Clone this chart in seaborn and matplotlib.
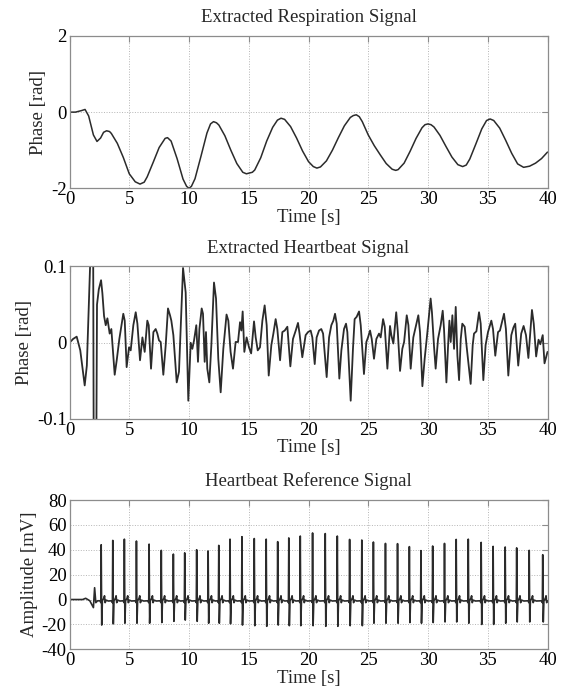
import numpy as np
import pandas as pd
import matplotlib
matplotlib.use("Agg")
import matplotlib.pyplot as plt
import seaborn as sns

# ---------------- data ----------------
resp_time = [0.0, 0.5, 1.0, 1.3, 1.6, 2.0, 2.3, 2.6, 2.85, 3.1, 3.35, 3.5, 4.0, 4.5, 5.0,
             5.5, 5.9, 6.25, 6.5, 7.0, 7.5, 8.0, 8.2, 8.5, 9.0, 9.5, 9.8, 10.0, 10.2,
             10.5, 11.0, 11.5, 11.8, 12.05, 12.3, 12.5, 13.0, 13.5, 14.0, 14.5, 14.8,
             15.3, 15.5, 16.0, 16.5, 17.0, 17.4, 17.7, 18.0, 18.5, 19.0, 19.5, 20.0,
             20.4, 20.7, 21.0, 21.5, 22.0, 22.5, 23.0, 23.5, 23.75, 24.0, 24.25, 24.5,
             25.0, 25.5, 26.0, 26.5, 27.0, 27.3, 27.5, 28.0, 28.5, 29.0, 29.5, 29.75,
             30.0, 30.25, 30.5, 31.0, 31.5, 32.0, 32.5, 32.9, 33.2, 33.5, 34.0, 34.5,
             34.9, 35.2, 35.5, 36.0, 36.5, 37.0, 37.5, 38.0, 38.5, 39.0, 39.5, 40.0]
resp_phase = [0.0, 0.0, 0.04, 0.07, -0.10, -0.60, -0.77, -0.68, -0.53, -0.49, -0.51, -0.56,
              -0.82, -1.19, -1.62, -1.83, -1.89, -1.84, -1.70, -1.32, -0.93, -0.69, -0.67,
              -0.76, -1.22, -1.76, -1.95, -2.0, -1.95, -1.75, -1.16, -0.55, -0.31, -0.25,
              -0.28, -0.34, -0.62, -1.00, -1.35, -1.58, -1.62, -1.58, -1.52, -1.20, -0.76,
              -0.40, -0.21, -0.16, -0.19, -0.38, -0.68, -1.02, -1.30, -1.43, -1.47, -1.44,
              -1.28, -1.00, -0.67, -0.36, -0.14, -0.09, -0.07, -0.12, -0.25, -0.60, -0.88,
              -1.12, -1.35, -1.50, -1.53, -1.51, -1.34, -1.03, -0.69, -0.41, -0.33, -0.31,
              -0.33, -0.39, -0.61, -0.90, -1.18, -1.38, -1.43, -1.39, -1.23, -0.84, -0.44,
              -0.22, -0.18, -0.22, -0.42, -0.74, -1.08, -1.36, -1.45, -1.42, -1.34, -1.22,
              -1.05]

hb_time = [0.0, 0.3, 0.6, 0.9, 1.27, 1.45, 1.72, 1.9, 2.1, 2.3, 2.45, 2.64, 2.75, 2.89,
           3.03, 3.17, 3.36, 3.5, 3.78, 3.95, 4.17, 4.5, 4.62, 4.78, 4.98, 5.12, 5.34,
           5.54, 5.68, 5.9, 6.1, 6.29, 6.51, 6.63, 6.82, 7.02, 7.21, 7.35, 7.49, 7.63,
           7.85, 8.05, 8.24, 8.41, 8.52, 8.69, 8.97, 9.16, 9.5, 9.72, 9.94, 10.14, 10.28,
           10.42, 10.61, 10.75, 10.87, 11.06, 11.17, 11.31, 11.42, 11.53, 11.7, 11.87,
           12.09, 12.26, 12.45, 12.65, 12.87, 13.14, 13.29, 13.48, 13.68, 13.9, 14.1,
           14.27, 14.38, 14.49, 14.63, 14.82, 15.02, 15.2, 15.44, 15.58, 15.75, 15.94,
           16.14, 16.33, 16.5, 16.67, 16.89, 17.06, 17.25, 17.39, 17.62, 17.81, 18.01,
           18.23, 18.48, 18.7, 18.93, 19.12, 19.25, 19.48, 19.76, 19.96, 20.18, 20.32,
           20.52, 20.68, 20.88, 21.07, 21.22, 21.52, 21.72, 21.91, 22.08, 22.22, 22.36,
           22.58, 22.75, 22.97, 23.14, 23.25, 23.53, 23.72, 23.86, 24.03, 24.23, 24.37,
           24.64, 24.84, 24.98, 25.15, 25.29, 25.48, 25.68, 25.9, 26.04, 26.24, 26.38,
           26.6, 26.82, 26.93, 27.1, 27.34, 27.47, 27.66, 27.85, 28.0, 28.22, 28.36,
           28.55, 28.77, 28.97, 29.19, 29.33, 29.53, 29.72, 29.95, 30.22, 30.33, 30.5,
           30.64, 30.84, 31.06, 31.23, 31.34, 31.54, 31.68, 31.79, 31.9, 32.04, 32.18,
           32.32, 32.46, 32.6, 32.74, 32.87, 33.07, 33.24, 33.57, 33.74, 33.85, 34.05,
           34.27, 34.41, 34.63, 34.82, 35.02, 35.3, 35.44, 35.63, 35.86, 36.02, 36.36,
           36.52, 36.72, 36.97, 37.15, 37.3, 37.55, 37.8, 38.0, 38.2, 38.4, 38.7, 38.85,
           39.05, 39.25, 39.4, 39.6, 39.75, 40.0]
hb_phase = [0.0, 0.005, 0.008, -0.01, -0.056, -0.03, 0.1, 0.6, -0.6, 0.05, 0.07, 0.082,
            0.065, 0.035, 0.023, 0.032, 0.012, 0.018, -0.042, -0.023, 0.005, 0.038, 0.029,
            -0.032, -0.006, -0.01, 0.023, 0.04, 0.025, -0.023, 0.007, -0.012, 0.029, 0.023,
            -0.034, 0.014, 0.018, 0.012, 0.003, 0.001, -0.042, -0.003, 0.045, 0.036, 0.029,
            0.01, -0.052, -0.038, 0.098, 0.066, -0.076, 0.0, -0.008, 0.003, 0.023, -0.025,
            0.018, 0.045, 0.038, -0.025, 0.014, -0.034, -0.052, -0.003, 0.079, 0.058,
            -0.021, -0.065, -0.008, 0.037, 0.029, -0.012, -0.034, 0.001, 0.001, 0.027,
            0.016, 0.041, -0.012, 0.007, -0.006, -0.014, 0.028, 0.007, -0.01, -0.006,
            0.029, 0.049, 0.023, -0.043, -0.003, 0.012, 0.031, 0.018, -0.023, 0.014, 0.016,
            0.021, -0.031, 0.005, 0.016, 0.026, 0.012, -0.019, 0.01, 0.014, 0.016, 0.007,
            -0.028, 0.007, 0.016, 0.018, 0.012, -0.045, 0.007, 0.023, 0.029, 0.038, 0.025,
            -0.047, -0.01, 0.018, 0.025, 0.014, -0.076, -0.008, 0.031, 0.034, 0.041, 0.023,
            -0.041, 0.001, 0.007, 0.016, 0.005, -0.021, 0.005, 0.012, 0.007, 0.031, 0.021,
            -0.034, 0.022, 0.01, -0.001, 0.04, 0.015, -0.037, -0.008, 0.001, 0.036, 0.023,
            -0.034, 0.007, 0.021, 0.036, 0.014, -0.057, -0.021, 0.014, 0.058, 0.04, -0.004,
            -0.034, 0.005, 0.023, 0.042, 0.018, -0.052, -0.004, 0.029, 0.001, 0.036, -0.008,
            0.047, -0.017, -0.049, 0.005, 0.025, 0.021, -0.006, -0.054, -0.003, 0.012, 0.015,
            0.04, 0.025, -0.049, -0.003, 0.014, 0.029, 0.018, -0.017, 0.014, 0.016, 0.038,
            0.018, -0.043, 0.01, 0.02, 0.025, -0.03, 0.012, 0.022, 0.01, -0.02, 0.043, 0.025,
            -0.018, 0.004, -0.002, 0.01, -0.027, -0.012]

# ECG: R-peak times, R and S amplitudes, plus the onset artefact
beat_time = [2.65, 3.62, 4.59, 5.6, 6.66, 7.68, 8.69, 9.64, 10.64, 11.6, 12.49, 13.43,
             14.43, 15.46, 16.46, 17.42, 18.35, 19.31, 20.34, 21.4, 22.41, 23.44, 24.46,
             25.43, 26.44, 27.45, 28.44, 29.41, 30.39, 31.38, 32.36, 33.37, 34.45, 35.45,
             36.46, 37.42, 38.47, 39.6]
r_amp = [44, 47.5, 48.5, 47, 44.5, 39.5, 36.5, 37.5, 40, 39, 43.5, 48.5, 50.5, 49, 48.5,
         46.5, 49.5, 51, 53.5, 53, 51, 48.3, 47.8, 46.2, 45.1, 44.9, 42.5, 39.3, 43, 45.1,
         48.3, 48.5, 45.9, 42.7, 42.2, 41.5, 39.5, 36]
s_amp = [-20.5, -19.5, -19, -19, -19, -18.5, -17.5, -16.5, -17.5, -19, -19, -19.5, -20.5,
         -21, -21.5, -20.5, -21, -21, -21, -21.5, -21.5, -21, -21, -19, -19, -19, -18.5,
         -19, -18.5, -18, -18, -19, -20, -20, -19, -18, -18, -18]
onset_time = [0.0, 1.1, 1.35, 1.7, 2.0, 2.1, 2.2, 2.35]
onset_amp = [0.0, 0.0, 1.0, -1.0, -6.5, 9.5, -2.5, -1.0]

# beat shape (offset in s from R peak, level in mV; R/S filled from arrays)
wave_offset = [-0.10, -0.03, 0.0, 0.045, 0.10, 0.22, 0.28, 0.33, 0.42, 0.60]
wave_level = [-1.0, -2.5, None, None, -1.0, 1.0, 3.0, -2.5, -0.5, -1.2]

# ---------------- build the ECG table ----------------
ecg_t = list(onset_time)
ecg_v = list(onset_amp)
for bt, ra, sa in zip(beat_time, r_amp, s_amp):
    for off, lev in zip(wave_offset, wave_level):
        if off == 0.0:
            lev = ra
        elif lev is None:
            lev = sa
        t = bt + off
        if t <= 40.0 and t > ecg_t[-1]:
            ecg_t.append(t)
            ecg_v.append(lev)
ecg_t.append(40.0)
ecg_v.append(-1.0)

resp_df = pd.DataFrame({"t": resp_time, "v": resp_phase})
hb_df = pd.DataFrame({"t": hb_time, "v": hb_phase})
ecg_df = pd.DataFrame({"t": ecg_t, "v": ecg_v})

# ---------------- style ----------------
sns.set_theme(style="white")
plt.rcParams["font.family"] = ["Liberation Serif", "DejaVu Serif"]
plt.rcParams["axes.unicode_minus"] = False
FS = 13.5

fig = plt.figure(figsize=(5.62, 6.96), dpi=100)
left, width = 0.1237, 0.8505
axes_pos = [(0.7295, 0.2188), (0.398, 0.2191), (0.0671, 0.2145)]

panels = [
    (resp_df, "Extracted Respiration Signal", "Phase [rad]", (-2, 2), [-2, 0, 2], ["-2", "0", "2"], 1.1),
    (hb_df, "Extracted Heartbeat Signal", "Phase [rad]", (-0.1, 0.1), [-0.1, 0, 0.1], ["-0.1", "0", "0.1"], 1.3),
    (ecg_df, "Heartbeat Reference Signal", "Amplitude [mV]", (-40, 80),
     [-40, -20, 0, 20, 40, 60, 80], ["-40", "-20", "0", "20", "40", "60", "80"], 1.2),
]

for (df, title, ylab, ylim, yt, ytl, lw), (b, h) in zip(panels, axes_pos):
    ax = fig.add_axes([left, b, width, h])
    sns.lineplot(data=df, x="t", y="v", ax=ax, color="#2b2b2b", linewidth=lw,
                 estimator=None, sort=False)
    ax.set_xlim(0, 40)
    ax.set_ylim(*ylim)
    ax.set_xticks(range(0, 41, 5))
    ax.set_xticklabels([str(v) for v in range(0, 41, 5)])
    ax.set_yticks(yt)
    ax.set_yticklabels(ytl)
    ax.grid(True, linestyle=":", color="#b5b5b5", linewidth=0.7)
    for sp in ax.spines.values():
        sp.set_color("#8c8c8c")
        sp.set_linewidth(0.9)
    ax.tick_params(direction="in", top=True, right=True, length=4, width=0.8,
                   color="#8c8c8c", labelsize=FS, labelcolor="black", pad=2)
    ax.set_title(title, fontsize=FS, pad=10)
    ax.set_xlabel("Time [s]", fontsize=FS, labelpad=0.5)
    ax.set_ylabel(ylab, fontsize=FS, labelpad=3)

fig.savefig("out.png", dpi=100, facecolor="white")
